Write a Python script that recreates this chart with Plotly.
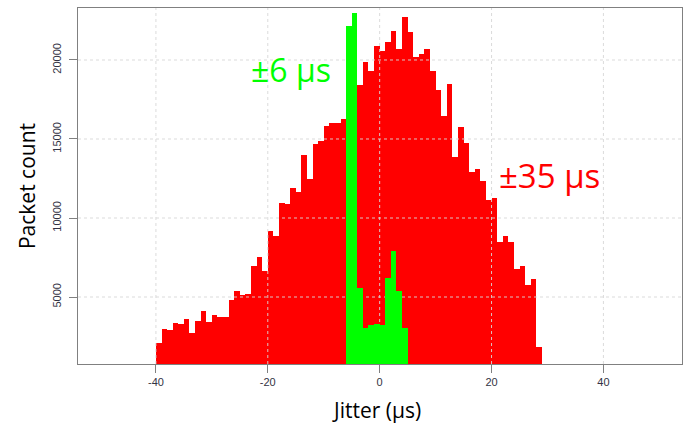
import plotly.graph_objects as go

# ---- data ----
red_bins = list(range(-40, 29))  # left edges of 1 µs bins
red_counts = [2110, 2980, 2930, 3330, 3270, 3610, 2720, 3460, 4140, 3420,
              3880, 3710, 3760, 4800, 5400, 5130, 5170, 6960, 7510, 6670,
              9180, 8840, 10930, 10870, 11920, 11670, 13990, 12450, 14670, 14880,
              15830, 16020, 16030, 16290, 17000, 17800, 18420, 19860, 19330, 20910,
              20580, 21160, 21840, 20700, 22700, 21800, 20170, 20380, 20700, 19280,
              18080, 16460, 18470, 13840, 15760, 14730, 12930, 13080, 12340, 11140,
              11290, 8480, 8860, 8460, 6790, 6940, 5740, 6160, 1840]
green_bins = list(range(-6, 5))
green_counts = [22160, 22960, 5590, 3060, 3230, 3270, 3230, 6220, 7930, 5380, 3020]

x_ticks = [-40, -20, 0, 20, 40]
y_ticks = [5000, 10000, 15000, 20000]
x_range = [-53.93, 54.05]
y_range = [760, 23290]

RED = "#ff0000"
GREEN = "#00ff00"
GRID = "rgba(215,215,215,0.9)"

fig = go.Figure()

fig.add_trace(go.Bar(x=[b + 0.5 for b in red_bins], y=red_counts, width=1,
                     marker=dict(color=RED, line=dict(width=0)),
                     xaxis="x", yaxis="y", showlegend=False, hoverinfo="skip"))

# grid drawn above red bars but below green bars
for xt in x_ticks:
    fig.add_trace(go.Scatter(x=[xt, xt], y=y_range, mode="lines",
                             line=dict(color=GRID, width=1, dash="dot"),
                             xaxis="x", yaxis="y", showlegend=False, hoverinfo="skip"))
for yt in y_ticks:
    fig.add_trace(go.Scatter(x=x_range, y=[yt, yt], mode="lines",
                             line=dict(color=GRID, width=1, dash="dot"),
                             xaxis="x", yaxis="y", showlegend=False, hoverinfo="skip"))

fig.add_trace(go.Bar(x=[b + 0.5 for b in green_bins], y=green_counts, width=1,
                     marker=dict(color=GREEN, line=dict(width=0)),
                     xaxis="x2", yaxis="y2", showlegend=False, hoverinfo="skip"))

tickfont = dict(family="Liberation Sans, Arial, sans-serif", size=11, color="#333344")
titlefont = dict(family="Open Sans, sans-serif", size=21, color="#000000")

fig.update_layout(
    width=692, height=423,
    margin=dict(l=78, r=9.5, t=8, b=59, autoexpand=False),
    plot_bgcolor="white", paper_bgcolor="white",
    barmode="overlay", bargap=0,
    xaxis=dict(range=x_range, tickvals=x_ticks, ticktext=[str(v) for v in x_ticks],
               ticks="outside", ticklen=8, automargin=False,
               tickcolor="#808080", showgrid=False, zeroline=False,
               showline=True, mirror=True, linecolor="#808080", linewidth=1,
               tickfont=tickfont),
    yaxis=dict(range=y_range, tickvals=y_ticks, ticktext=[str(v) for v in y_ticks],
               ticks="outside", ticklen=8, automargin=False, ticklabelstandoff=4,
               tickcolor="#808080", showgrid=False, zeroline=False,
               showline=True, mirror=True, linecolor="#808080", linewidth=1,
               tickangle=-90, tickfont=tickfont),
    xaxis2=dict(range=x_range, overlaying="x", visible=False),
    yaxis2=dict(range=y_range, overlaying="y", visible=False),
    annotations=[
        dict(text="±6 µs", x=-15.9, y=19370, xref="x", yref="y", showarrow=False,
             xanchor="center", yanchor="middle",
             font=dict(family="Open Sans, sans-serif", size=32, color=GREEN)),
        dict(text="±35 µs", x=30.4, y=12660, xref="x", yref="y", showarrow=False,
             xanchor="center", yanchor="middle",
             font=dict(family="Open Sans, sans-serif", size=33, color=RED)),
        dict(text="Jitter (µs)", x=0.495, y=-0.129, xref="paper", yref="paper",
             showarrow=False, xanchor="center", yanchor="middle", font=titlefont),
        dict(text="Packet count", x=-0.0844, y=0.5, xref="paper", yref="paper",
             showarrow=False, xanchor="center", yanchor="middle", textangle=-90,
             font=titlefont),
    ],
)

fig.write_html("out.html", config={"displayModeBar": False},
               post_script="document.body.style.margin='0px';document.body.style.overflow='hidden';")
